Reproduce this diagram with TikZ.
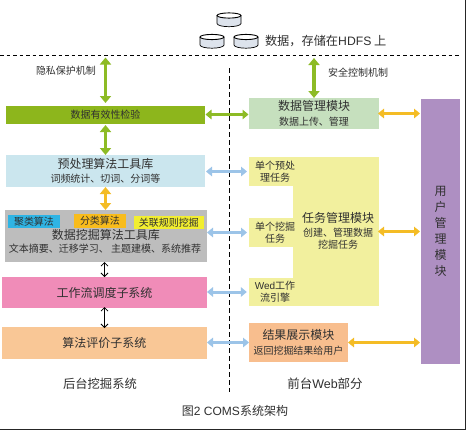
\documentclass[tikz,border=0pt]{standalone}
\usepackage{fontspec}
\setmainfont{Liberation Sans}
\newfontfamily\cjk{Noto Sans CJK SC}
\usetikzlibrary{arrows.meta}
\definecolor{gtxt}{HTML}{303030}
\definecolor{cgreen}{HTML}{8DB61C}
\definecolor{cblue}{HTML}{CBE6EE}
\definecolor{cgray}{HTML}{BDBDBD}
\definecolor{cpink}{HTML}{F08CB8}
\definecolor{corange}{HTML}{F9C796}
\definecolor{cdm}{HTML}{C6E0BE}
\definecolor{ctask}{HTML}{F2F09E}
\definecolor{cres}{HTML}{F8BE8E}
\definecolor{cuser}{HTML}{AE8FC2}
\definecolor{agreen}{HTML}{8DBB25}
\definecolor{ablue}{HTML}{9CC4E8}
\definecolor{ayel}{HTML}{F4BC25}
\definecolor{cchip1}{HTML}{2FB4E4}
\definecolor{cchip2}{HTML}{F8BC1C}
\definecolor{cchip3}{HTML}{F2EE30}
\definecolor{cyfill}{HTML}{DDE3EC}
\newcommand{\lat}[1]{{\rmfamily #1}}
\newcommand{\bigt}[1]{{\fontsize{12}{14.5}\selectfont #1}}
\tikzset{
 x=1pt,y=-1pt,
 every node/.style={text=gtxt,font=\cjk,align=center,inner sep=0pt,outer sep=0pt},
 sz/.style 2 args={minimum width=#1 pt,minimum height=#2 pt},
 twov/.style={draw=#1,line width=3.2pt,{Triangle[length=7pt,width=11pt,fill=#1]}-{Triangle[length=7pt,width=11pt,fill=#1]}},
 twoh/.style={draw=#1,line width=3pt,{Triangle[length=6pt,width=9.5pt,fill=#1]}-{Triangle[length=6pt,width=9.5pt,fill=#1]}},
 thin2/.style={draw=black,line width=0.8pt,{Straight Barb[length=3.5pt,width=7pt]}-{Straight Barb[length=3.5pt,width=7pt]}},
 lab/.style={font=\cjk\fontsize{#1}{14.5}\selectfont},
 lab12/.style={font=\cjk\fontsize{#1}{12.3}\selectfont},
 lab16/.style={font=\cjk\fontsize{#1}{16}\selectfont},
}
\newcommand{\cyl}[2]{%
 \begin{scope}[shift={(#1,#2)}]
  \path[fill=cyfill,draw=black,line width=0.7pt] (-12,-4) -- (-12,4) arc[start angle=180,end angle=0,x radius=12,y radius=3.2] -- (12,-4);
  \path[fill=white,draw=black,line width=0.9pt] (0,-4) ellipse[x radius=12,y radius=2.6];
 \end{scope}}
\begin{document}
\begin{tikzpicture}
\useasboundingbox (0,0) rectangle (467,431);
\fill[white] (0,0) rectangle (467,431);
% frame
\draw[black!85,line width=1pt] (465.5,0) -- (465.5,429.5) -- (0,429.5);
% disks
\cyl{229}{19.5}\cyl{212}{41}\cyl{246}{41}
\node[lab=12.2,anchor=west] (data) at (265,41) {数据，存储在\lat{HDFS} 上};
% dashed lines
\coordinate (hl) at (0,55.5); \coordinate (hr) at (460,55.5);
\coordinate (vt) at (229.5,68); \coordinate (vb) at (229.5,392);
\draw[black,line width=0.7pt,dash pattern=on 3.5pt off 3pt] (hl) -- (hr);
\draw[black,line width=0.7pt,dash pattern=on 5pt off 3pt] (vt) -- (vb);
% left column
\node[fill=cgreen,sz={199}{18},lab=10] (valid) at (105.5,115) {数据有效性检验};
\node[fill=cblue,sz={199}{32},lab=10] (pre) at (105.5,171) {\bigt{预处理算法工具库}\\词频统计、切词、分词等};
\node[fill=cgray,sz={202}{52}] (gray) at (106,236) {};
\node[fill=cchip1,sz={52}{13},lab=10] (c1) at (34,221.5) {聚类算法};
\node[fill=cchip2,sz={52}{14},lab=10] (c2) at (100,221) {分类算法};
\node[fill=cchip3,sz={70}{13},lab=10] (c3) at (169,222.5) {关联规则挖掘};
\node[lab=12] (mine) at (106,234.5) {数据挖掘算法工具库};
\node[lab=10] (mine2) at (105,249) {文本摘要、迁移学习、 主题建模、系统推荐};
\node[fill=cpink,sz={205}{31},lab=12] (wf) at (104.5,292.5) {工作流调度子系统};
\node[fill=corange,sz={205}{32},lab=12] (ev) at (104.5,343) {算法评价子系统};
\node[lab=12.3] (b1) at (100,384) {后台挖掘系统};
% right column
\node[fill=cdm,sz={130}{31},lab=10] (dm) at (314,113.5) {\bigt{数据管理模块}\\数据上传、管理};
\node[fill=ctask,sz={86}{149}] (tm) at (336,231.5) {};
\node[fill=ctask,sz={42.5}{29},lab12=10] (t1) at (272,171.5) {\hspace*{6pt}单个预处\\\hspace*{6pt}理任务};
\node[fill=ctask,sz={42.5}{29},lab12=10] (t2) at (272,232.5) {\hspace*{6pt}单个挖掘\\\hspace*{6pt}任务};
\node[fill=ctask,sz={42.5}{28},lab12=10] (t3) at (272,292) {\hspace*{6pt}\lat{Wed}工作\\\hspace*{6pt}流引擎};
\node[lab=12] (tma) at (338,218) {任务管理模块};
\node[lab12=10,text depth=0pt] (tmb) at (338,238.5) {创建、管理数据\\挖掘任务};
\node[fill=cres,sz={99}{39},lab=10] (rs) at (298.5,342.5) {\bigt{结果展示模块}\\返回挖掘结果给用户};
\node[fill=cuser,sz={39}{265},lab16=12] (u) at (440.5,231.5) {用\\户\\管\\理\\模\\块};
\node[lab=12.5] (b2) at (325,383.5) {前台\lat{Web}部分};
\node[lab=12] (cap) at (235,411) {图\lat{2 COMS}系统架构};
\node[lab=10] (pv) at (66,71) {隐私保护机制};
\node[lab=10] (sc) at (358,72.5) {安全控制机制};
% connectors
\coordinate (a1) at (105.5,57.5);
\draw[twov=agreen,shorten >=3pt] (a1) -- (valid.north);
\draw[twov=agreen,shorten <=1pt] (valid.south) -- (pre.north);
\draw[twov=ayel] (pre.south) -- (pre.south |- gray.north);
\draw[thin2] (wf.north |- gray.south) -- (wf.north);
\draw[thin2,shorten <=-1pt,shorten >=-1pt] (wf.south) -- (ev.north);
\coordinate (b1a) at (314,58);
\draw[twov=agreen] (b1a) -- (dm.north);
\draw[twoh=agreen,shorten >=0.5pt,shorten <=0.5pt] ([yshift=-1pt]dm.west -| valid.east) -- ([yshift=-1pt]dm.west);
\draw[twoh=ablue,shorten >=2pt,shorten <=1pt] (pre.east |- t1.west) -- (t1.west);
\draw[twoh=ablue,shorten >=2pt] (gray.east |- t2.west) -- (t2.west);
\draw[twoh=ablue,shorten >=2pt] (wf.east |- t3.west) -- (t3.west);
\draw[twoh=ablue] (ev.east |- rs.west) -- (rs.west);
\draw[twoh=ayel,shorten <=-1pt,shorten >=1pt] (dm.east) -- (dm.east -| u.west);
\draw[twoh=ayel,shorten <=-1pt,shorten >=1pt] (tm.east) -- (tm.east -| u.west);
\draw[twoh=ayel,shorten >=1pt] (rs.east) -- (rs.east -| u.west);
\end{tikzpicture}
\end{document}
